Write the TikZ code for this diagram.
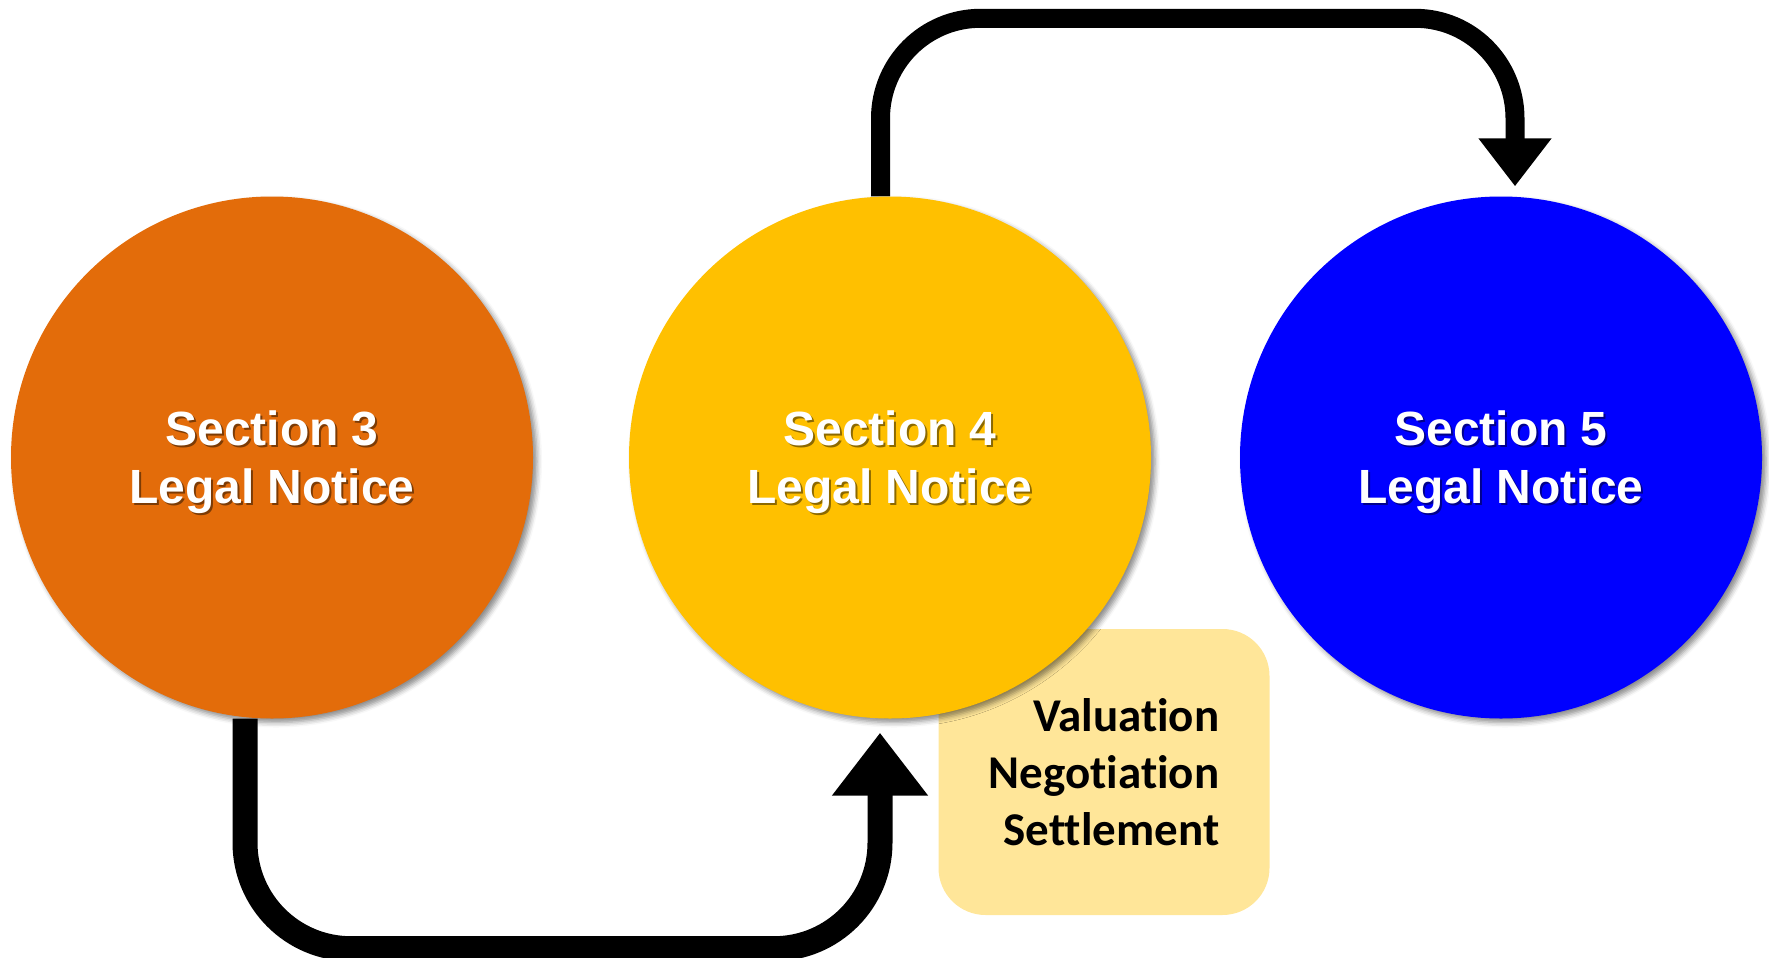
\documentclass[tikz,border=0pt]{standalone}
\usepackage{fontspec}
\newfontfamily\arialfont{Liberation Sans}
\newfontfamily\calfont{Carlito}[RawFeature={-liga;-clig;-dlig}]
\usetikzlibrary{arrows.meta,shadows.blur,backgrounds}
\definecolor{sorange}{HTML}{E36C0A}
\definecolor{syellow}{HTML}{FFC000}
\definecolor{sblue}{HTML}{0000FF}
\definecolor{boxyellow}{HTML}{FFE699}
\begin{document}
\begin{tikzpicture}[x=1pt,y=-1pt,
  sec/.style={circle, minimum size=522pt, inner sep=0pt,
    blur shadow={shadow xshift=4pt, shadow yshift=-4pt, shadow blur radius=5pt, shadow opacity=45}},
  sectext/.style={text=white, align=center, inner sep=0pt,
    font=\arialfont\bfseries\fontsize{48}{58}\selectfont},
  secshadow/.style={sectext, text=black, opacity=0.45},
  notebox/.style={fill=boxyellow, rounded corners=47pt, minimum width=331pt,
    minimum height=286pt, inner sep=0pt, align=right,
    font=\calfont\bfseries\fontsize{47}{57}\selectfont},
  toparr/.style={line width=19pt, rounded corners=100pt,
    -{Triangle[width=70pt,length=48pt]}},
  botarr/.style={line width=25pt, rounded corners=106pt,
    -{Triangle[width=92pt,length=63pt]}}
]
\useasboundingbox (0,0) rectangle (1769,958);
% note box (behind circle)
\node[notebox] (nb) at (1104,772) {Valuation\\Negotiation\\Settlement};
% circles
\node[sec, fill=sorange] (s3) at (272,457.5) {};
\node[sec, fill=syellow] (s4) at (890,457.5) {};
\node[sec, fill=sblue]   (s5) at (1501,457.5) {};
% texts
\node[secshadow] (s3s) at ([xshift=2pt,yshift=-7pt]s3.center) {Section 3\\Legal Notice};
\node[sectext]   (s3t) at ([yshift=-5pt]s3.center) {Section 3\\Legal Notice};
\node[secshadow] (s4s) at ([xshift=2pt,yshift=-7pt]s4.center) {Section 4\\Legal Notice};
\node[sectext]   (s4t) at ([yshift=-5pt]s4.center) {Section 4\\Legal Notice};
\node[secshadow] (s5s) at ([xshift=2pt,yshift=-7pt]s5.center) {Section 5\\Legal Notice};
\node[sectext]   (s5t) at ([yshift=-5pt]s5.center) {Section 5\\Legal Notice};
% connectors
\begin{scope}[on background layer]
\draw[toparr] ([xshift=-9.5pt]s4.north) -- ++(0,-178) -| ([xshift=14pt,yshift=10pt]s5.north);
\draw[botarr] ([xshift=-27pt]s3.south) -- ++(0,230) -| ([xshift=-10pt,yshift=-14pt]s4.south);
\end{scope}
\end{tikzpicture}
\end{document}
